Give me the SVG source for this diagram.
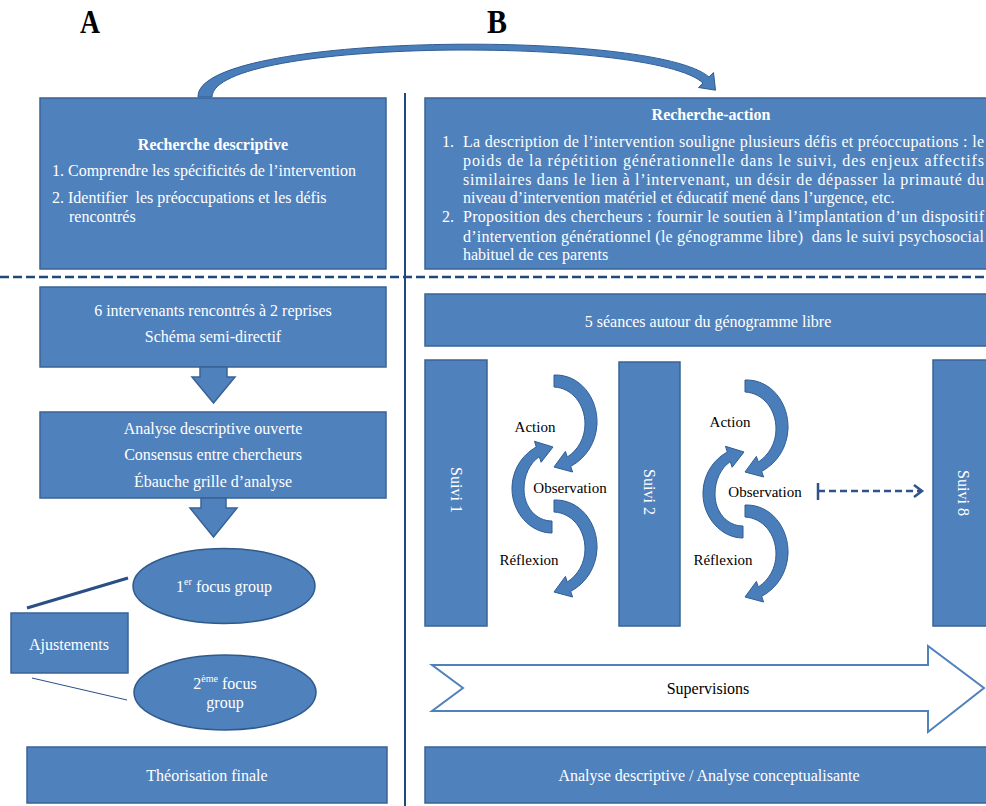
<svg xmlns="http://www.w3.org/2000/svg" xmlns:xlink="http://www.w3.org/1999/xlink" width="986" height="806" viewBox="0 0 986 806">
<style>
.box{fill:#4f81bd;stroke:#3a6395;stroke-width:1.5}
.wt{fill:#ffffff;font-family:"Liberation Serif","Times New Roman",serif;font-size:16px}
.bt{fill:#000000;font-family:"Liberation Serif","Times New Roman",serif;font-size:16px}
.lbl{fill:#000000;font-family:"Liberation Serif","Times New Roman",serif;font-size:15px}
.cyc{fill:#4a7ebb;stroke:#2f5d93;stroke-width:1}
.mid{text-anchor:middle}
.hdr{fill:#000;font-family:"Liberation Serif","Times New Roman",serif;font-size:34px;font-weight:bold}
</style>
<defs>
<path id="cw" d="M 554 375 C 580 374 598 398 597 424 C 596 443 586 458 570.7 466.4 L 572.6 472 L 554 467 L 565.4 451.4 L 567.3 457 C 578 450 585 438 585 424 C 585 404 572 388 554 387 Z"/>
<path id="ccw" d="M 552 533 C 530 533 512 512 512 489 C 512 470 522 455 536.3 447 L 534.5 441.3 L 553 447 L 541.1 462.3 L 539.3 456.6 C 530 463 524 475 524 489 C 524 507 536 521 552 521 Z"/>
</defs>
<rect width="986" height="806" fill="#ffffff"/>

<text class="hdr" x="80" y="33" textLength="20" lengthAdjust="spacingAndGlyphs">A</text>
<text class="hdr" x="487" y="33" textLength="20" lengthAdjust="spacingAndGlyphs">B</text>

<g id="separators" fill="none" stroke="#1f497d">
<line x1="405" y1="93" x2="405" y2="806" stroke-width="2"/>
<line x1="0" y1="277" x2="986" y2="277" stroke-width="2.5" stroke-dasharray="9 4"/>
</g>

<g id="node-recherche-descriptive">
<rect class="box" x="40" y="98" width="346" height="171"/>
<text class="wt mid" x="213" y="150" font-weight="bold">Recherche descriptive</text>
<text class="wt" x="52" y="176">1. Comprendre les spécificités de l’intervention</text>
<text class="wt" x="52" y="203">2. Identifier&#160; les préoccupations et les défis</text>
<text class="wt" x="69" y="222">rencontrés</text>
</g>

<g id="node-recherche-action">
<rect class="box" x="425" y="98" width="580" height="171"/>
<text class="wt mid" x="711" y="120" font-weight="bold">Recherche-action</text>
<text class="wt" x="442" y="146.5">1.</text>
<text class="wt" x="463" y="146.5" textLength="521" lengthAdjust="spacing">La description de l’intervention souligne plusieurs défis et préoccupations : le</text>
<text class="wt" x="463" y="166" textLength="521" lengthAdjust="spacing">poids de la répétition générationnelle dans le suivi, des enjeux affectifs</text>
<text class="wt" x="463" y="184.5" textLength="521" lengthAdjust="spacing">similaires dans le lien à l’intervenant, un désir de dépasser la primauté du</text>
<text class="wt" x="463" y="203">niveau d’intervention matériel et éducatif mené dans l’urgence, etc.</text>
<text class="wt" x="442" y="222">2.</text>
<text class="wt" x="463" y="222" textLength="521" lengthAdjust="spacing">Proposition des chercheurs : fournir le soutien à l’implantation d’un dispositif</text>
<text class="wt" x="463" y="241.5" textLength="521" lengthAdjust="spacing">d’intervention générationnel (le génogramme libre)&#160; dans le suivi psychosocial</text>
<text class="wt" x="463" y="260">habituel de ces parents</text>
</g>

<g id="node-intervenants">
<rect class="box" x="40" y="287" width="346" height="80"/>
<text class="wt mid" x="213" y="316">6 intervenants rencontrés à 2 reprises</text>
<text class="wt mid" x="213" y="342">Schéma semi-directif</text>
</g>

<g id="node-analyse-ouverte">
<rect class="box" x="40" y="412" width="346" height="86"/>
<text class="wt mid" x="213" y="434">Analyse descriptive ouverte</text>
<text class="wt mid" x="213" y="460">Consensus entre chercheurs</text>
<text class="wt mid" x="213" y="487">Ébauche grille d’analyse</text>
</g>

<g id="node-focus1">
<ellipse cx="224" cy="586" rx="91" ry="37.5" fill="#4f81bd" stroke="#2f5a8c" stroke-width="1.5"/>
<text class="wt mid" x="224" y="592">1<tspan font-size="10" dy="-7">er</tspan><tspan dy="7"> focus group</tspan></text>
</g>

<g id="node-focus2">
<ellipse cx="225" cy="692.5" rx="91" ry="37.5" fill="#4f81bd" stroke="#2f5a8c" stroke-width="1.5"/>
<text class="wt mid" x="225" y="689">2<tspan font-size="10" dy="-7">ème</tspan><tspan dy="7"> focus</tspan></text>
<text class="wt mid" x="225" y="708">group</text>
</g>

<g id="node-ajustements">
<rect class="box" x="11" y="613" width="117" height="60"/>
<text class="wt mid" x="69" y="650">Ajustements</text>
</g>

<g id="node-theorisation">
<rect class="box" x="27" y="747" width="360" height="56"/>
<text class="wt mid" x="207" y="781">Théorisation finale</text>
</g>

<g id="node-seances">
<rect class="box" x="425" y="294" width="580" height="52"/>
<text class="wt mid" x="708" y="327">5 séances autour du génogramme libre</text>
</g>

<g id="node-suivi1">
<rect class="box" x="425" y="360" width="62" height="266"/>
<text class="wt mid" transform="translate(456,490) rotate(90)" y="5">Suivi 1</text>
</g>
<g id="node-suivi2">
<rect class="box" x="619" y="362" width="61" height="264"/>
<text class="wt mid" transform="translate(649,492) rotate(90)" y="5">Suivi 2</text>
</g>
<g id="node-suivi8">
<rect class="box" x="933" y="360" width="70" height="266"/>
<text class="wt mid" transform="translate(963,493) rotate(90)" y="5">Suivi 8</text>
</g>

<g id="node-cycle1">
<use xlink:href="#cw" href="#cw" class="cyc"/>
<use xlink:href="#ccw" href="#ccw" class="cyc"/>
<use xlink:href="#cw" href="#cw" class="cyc" transform="translate(0,125)"/>
<text class="lbl mid" x="535" y="432">Action</text>
<text class="lbl mid" x="570" y="493">Observation</text>
<text class="lbl mid" x="529" y="565">Réflexion</text>
</g>

<g id="node-cycle2">
<g transform="translate(191,5)">
<use xlink:href="#cw" href="#cw" class="cyc"/>
<use xlink:href="#ccw" href="#ccw" class="cyc"/>
<use xlink:href="#cw" href="#cw" class="cyc" transform="translate(0,125)"/>
</g>
<text class="lbl mid" x="730" y="427">Action</text>
<text class="lbl mid" x="765" y="497">Observation</text>
<text class="lbl mid" x="723" y="565">Réflexion</text>
</g>

<g id="node-supervisions">
<polygon points="432,665 928,665 928,646 984,688 928,732 928,711 432,711 463,688" fill="#ffffff" stroke="#4f81bd" stroke-width="2"/>
<text class="bt mid" x="708" y="694">Supervisions</text>
</g>

<g id="node-analyse-finale">
<rect class="box" x="425" y="747" width="580" height="56"/>
<text class="wt mid" x="709" y="781">Analyse descriptive / Analyse conceptualisante</text>
</g>

<g id="connectors">
<path d="M 198 97 C 196 32 655 29 709 77 L 713.5 72.5 L 715.5 90.2 L 698.5 87.5 L 703 83 C 652 36 214 38 212 97 Z" fill="#4a7ebb" stroke="#2f5d93" stroke-width="1"/>
<path d="M 200 367 L 227 367 L 227 377 L 235 377 L 213.5 403 L 192 377 L 200 377 Z" fill="#4f81bd" stroke="#3a6395" stroke-width="1.5"/>
<path d="M 201 498 L 226 498 L 226 508 L 237 508 L 213.5 537 L 190 508 L 201 508 Z" fill="#4f81bd" stroke="#3a6395" stroke-width="1.5"/>
<line x1="27" y1="608" x2="128" y2="578" stroke="#2a4f85" stroke-width="3"/>
<line x1="32" y1="678" x2="127" y2="700" stroke="#2a4f85" stroke-width="1"/>
<g stroke="#2f528f" stroke-width="2.5" fill="none">
<line x1="818" y1="483" x2="818" y2="500"/>
<line x1="818" y1="491" x2="921" y2="491" stroke-dasharray="7 4"/>
<polyline points="914,485 922,491 914,497"/>
</g>
</g>
</svg>
